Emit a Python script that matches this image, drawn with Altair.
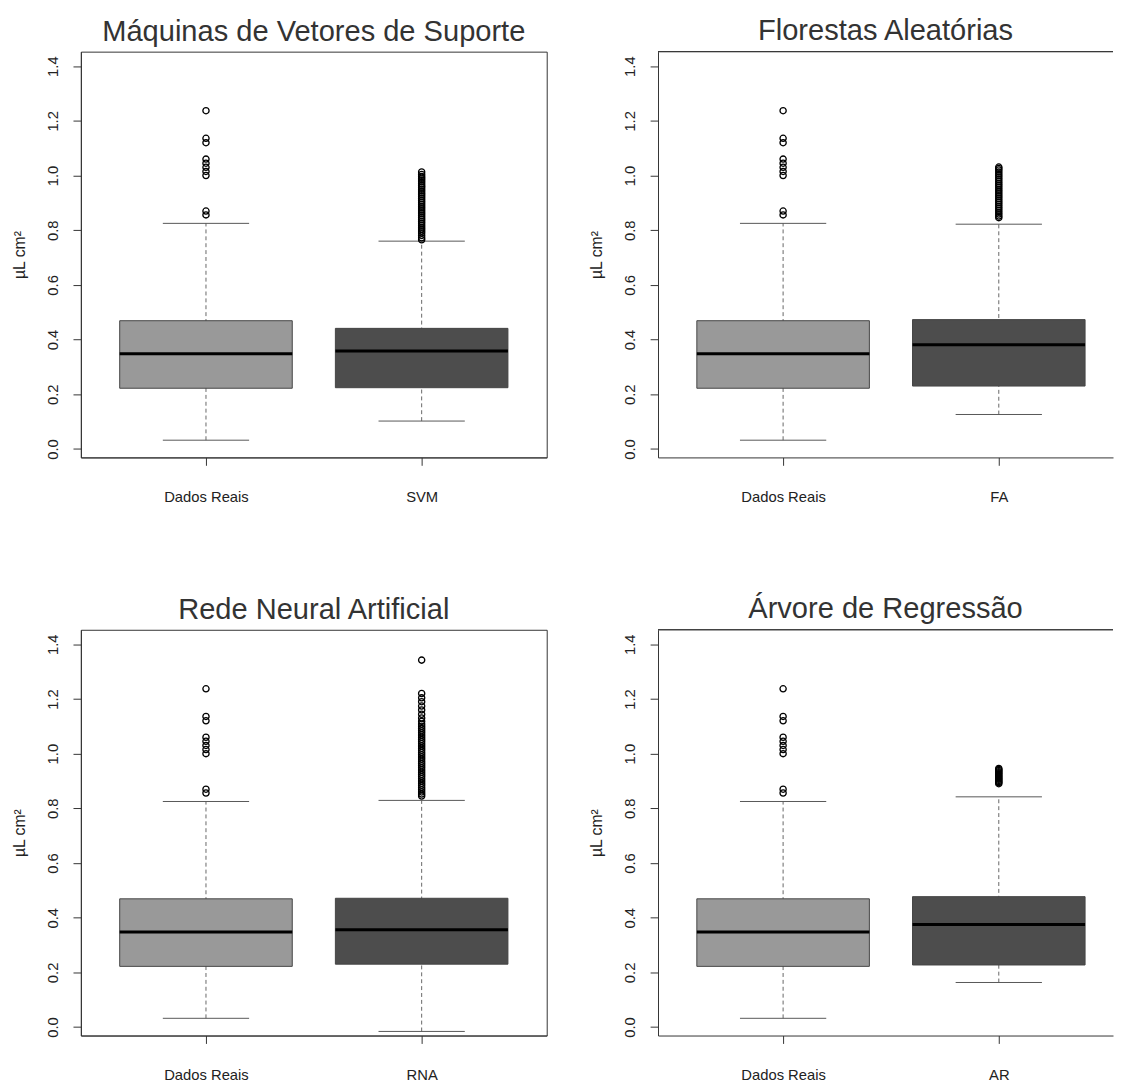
import altair as alt
import pandas as pd

# ---------------- data ----------------
titles = ["Máquinas de Vetores de Suporte", "Florestas Aleatórias",
          "Rede Neural Artificial", "Árvore de Regressão"]
models = ["SVM", "FA", "RNA", "AR"]
real_label = "Dados Reais"

# five-number summaries: lower whisker, Q1, median, Q3, upper whisker
real_stats = [0.032, 0.222, 0.348, 0.469, 0.825]
svm_stats = [0.102, 0.224, 0.358, 0.441, 0.760]
fa_stats = [0.126, 0.230, 0.381, 0.473, 0.822]
rna_stats = [-0.016, 0.230, 0.356, 0.471, 0.829]
ar_stats = [0.163, 0.227, 0.375, 0.477, 0.842]

real_out = [1.237, 1.136, 1.12, 1.06, 1.045, 1.03, 1.015, 1.0, 0.87, 0.856]
svm_out = [1.013, 1.004, 0.996, 0.99, 0.984, 0.977, 0.97, 0.963, 0.957, 0.95,
           0.943, 0.936, 0.93, 0.923, 0.916, 0.909, 0.902, 0.895, 0.888, 0.881,
           0.874, 0.867, 0.86, 0.853, 0.846, 0.839, 0.832, 0.825, 0.818, 0.811,
           0.804, 0.797, 0.79, 0.781, 0.772, 0.765]
fa_out = [1.031, 1.026, 1.02, 1.013, 1.006, 0.999, 0.992, 0.985, 0.978, 0.971,
          0.964, 0.957, 0.95, 0.943, 0.936, 0.929, 0.922, 0.915, 0.908, 0.901,
          0.894, 0.887, 0.88, 0.873, 0.866, 0.859, 0.852, 0.846]
rna_out = [1.342, 1.22, 1.204, 1.19, 1.174, 1.16, 1.144, 1.13, 1.118, 1.108,
           1.1, 1.092, 1.084, 1.076, 1.068, 1.06, 1.052, 1.044, 1.036, 1.028,
           1.02, 1.012, 1.004, 0.996, 0.988, 0.98, 0.972, 0.964, 0.956, 0.948,
           0.94, 0.932, 0.924, 0.916, 0.908, 0.9, 0.892, 0.884, 0.876, 0.868,
           0.86, 0.852, 0.845]
ar_out = [0.946, 0.942, 0.938, 0.934, 0.93, 0.926, 0.922, 0.918, 0.914, 0.91,
          0.906, 0.902, 0.898, 0.894, 0.89]

model_stats = [svm_stats, fa_stats, rna_stats, ar_stats]
model_out = [svm_out, fa_out, rna_out, ar_out]

y_ticks = [0.0, 0.2, 0.4, 0.6, 0.8, 1.0, 1.2, 1.4]

# ---------------- style ----------------
FONT = "Liberation Sans"
TXT = "#222222"
TITLE_TXT = "#333333"
LINE = "#333333"
FILL_REAL = "#999999"
FILL_MODEL = "#4d4d4d"
UNIT = 219.0          # px per x unit
H = 412
W_LEFT = 473
W_RIGHT = 462
Y_DOMAIN = [-0.031, 1.453]
BOXW = 0.8


def make_stats(i):
    rows = []
    for pos, lab, st, fill in [(1, real_label, real_stats, FILL_REAL),
                               (2, models[i], model_stats[i], FILL_MODEL)]:
        lo, q1, med, q3, hi = st
        rows.append(dict(pos=pos, label=lab, lo=lo, q1=q1, med=med, q3=q3, hi=hi,
                         xl=pos - BOXW / 2, xr=pos + BOXW / 2,
                         sl=pos - BOXW / 4, sr=pos + BOXW / 4, fill=fill))
    return pd.DataFrame(rows)


def make_out(i):
    rows = [dict(pos=1, v=v) for v in real_out]
    rows += [dict(pos=2, v=v) for v in model_out[i]]
    return pd.DataFrame(rows)


def panel(i, right):
    width = W_RIGHT if right else W_LEFT
    xdom = [0.42, 0.42 + width / UNIT]
    xscale = alt.Scale(domain=xdom, nice=False, zero=False)
    yscale = alt.Scale(domain=Y_DOMAIN, nice=False, zero=False)
    xaxis = alt.Axis(values=[1, 2],
                     labelExpr="datum.value == 1 ? '%s' : '%s'" % (real_label, models[i]),
                     title=None, grid=False, tickSize=8, tickColor=LINE,
                     domainColor=LINE, labelFont=FONT, labelFontSize=15,
                     labelColor=TXT, labelPadding=25)
    yaxis = alt.Axis(values=y_ticks, format=".1f", title="µL cm²", grid=False,
                     tickSize=8, tickColor=LINE, domainColor=LINE,
                     labelAngle=270, labelAlign="center", labelBaseline="bottom",
                     labelFont=FONT, labelFontSize=15, labelColor=TXT,
                     labelPadding=13, titleFont=FONT, titleFontSize=16,
                     titleFontWeight="normal", titleColor=TXT, titlePadding=18)

    def X(f):
        return alt.X(f, type="quantitative", scale=xscale, axis=xaxis)

    def Y(f):
        return alt.Y(f, type="quantitative", scale=yscale, axis=yaxis)

    st = make_stats(i)
    base = alt.Chart(st)
    whisk = base.mark_rule(color="#666666", strokeDash=[4, 3], strokeWidth=1).encode(
        x=X("pos"), y=Y("lo"), y2="hi")
    st_lo = base.mark_rule(color="#555555", strokeWidth=1).encode(
        x=X("sl"), x2="sr", y=Y("lo"))
    st_hi = base.mark_rule(color="#555555", strokeWidth=1).encode(
        x=X("sl"), x2="sr", y=Y("hi"))
    box = base.mark_rect(stroke="#444444", strokeWidth=1).encode(
        x=X("xl"), x2="xr", y=Y("q1"), y2="q3",
        fill=alt.Color("fill:N", scale=None))
    med = base.mark_rule(color="black", strokeWidth=3).encode(
        x=X("xl"), x2="xr", y=Y("med"))
    outs = alt.Chart(make_out(i)).mark_point(
        shape="circle", filled=False, color="black", strokeWidth=1.3,
        size=40, opacity=1).encode(x=X("pos"), y=Y("v"))
    layers = [whisk, st_lo, st_hi, box, med, outs]
    if right:
        topline = base.mark_rule(color=LINE, strokeWidth=1).encode(
            x=alt.value(0), x2=alt.value(width), y=alt.value(0))
        layers.append(topline)
        view = alt.ViewBackground(stroke="transparent")
    else:
        view = alt.ViewBackground(stroke=LINE, strokeWidth=1)
    return alt.layer(*layers).properties(
        width=width, height=H, view=view,
        title=alt.TitleParams(titles[i], font=FONT, fontSize=29.5,
                              fontWeight="normal", color=TITLE_TXT, offset=4.5,
                              anchor="middle"))


row1 = alt.hconcat(panel(0, False), panel(1, True), spacing=41)
row2 = alt.hconcat(panel(2, False), panel(3, True), spacing=41)
chart = alt.vconcat(row1, row2, spacing=90).properties(
    padding={"left": 3, "top": 0, "right": 0, "bottom": 0}
).configure(font=FONT)

chart.save("out.html", embed_options={"renderer": "svg", "actions": False})
